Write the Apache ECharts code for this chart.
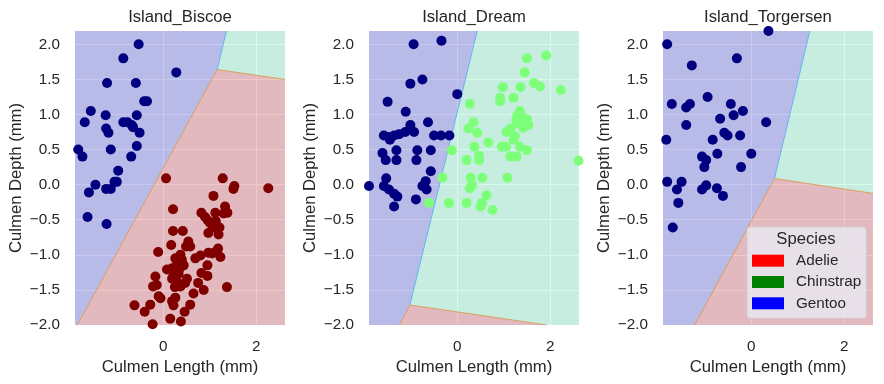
<!DOCTYPE html>
<html><head><meta charset="utf-8">
<script src="https://cdn.jsdelivr.net/npm/echarts@6.0.0/dist/echarts.min.js"></script>
<style>html,body{margin:0;padding:0;background:#fff}#c{width:884px;height:384px}</style>
</head><body><div id="c"></div>
<script>
// ---------------- data ----------------
const islands = ['Island_Biscoe', 'Island_Dream', 'Island_Torgersen'];
const speciesNames = ['Adelie', 'Chinstrap', 'Gentoo'];
const legendColors = ['#ff0000', '#008000', '#0000ff'];
const legendTitle = 'Species';
const xLabel = 'Culmen Length (mm)';
const yLabel = 'Culmen Depth (mm)';
const xExtent = [-1.9, 2.62];
const yExtent = [-2.0, 2.19];

// decision regions (data coordinates)
const biscoeAdelieRegion = [[-1.9,-2],[-1.85,-2],[1.16,1.64],[1.36,2.19],[-1.9,2.19]];
const biscoeChinstrapRegion = [[1.36,2.19],[1.16,1.64],[2.62,1.50],[2.62,2.19]];
const biscoeGentooRegion = [[-1.85,-2],[2.62,-2],[2.62,1.50],[1.16,1.64]];
const biscoeBlueEdge = [[1.16,1.64],[1.36,2.19]];
const biscoeRedEdge = [[-1.85,-2],[1.16,1.64],[2.62,1.50]];

const dreamAdelieRegion = [[-1.9,-2],[-1.24,-2],[-1.02,-1.715],[0.43,2.19],[-1.9,2.19]];
const dreamChinstrapRegion = [[0.43,2.19],[-1.02,-1.715],[1.92,-2],[2.62,-2],[2.62,2.19]];
const dreamGentooRegion = [[-1.24,-2],[-1.02,-1.715],[1.92,-2]];
const dreamBlueEdge = [[-1.02,-1.715],[0.43,2.19]];
const dreamRedEdge = [[-1.24,-2],[-1.02,-1.715],[1.92,-2]];

const torgersenAdelieRegion = [[-1.9,-2],[-1.22,-2],[0.50,0.088],[1.26,2.19],[-1.9,2.19]];
const torgersenChinstrapRegion = [[1.26,2.19],[0.50,0.088],[2.62,-0.125],[2.62,2.19]];
const torgersenGentooRegion = [[-1.22,-2],[2.62,-2],[2.62,-0.125],[0.50,0.088]];
const torgersenBlueEdge = [[0.50,0.088],[1.26,2.19]];
const torgersenRedEdge = [[-1.22,-2],[0.50,0.088],[2.62,-0.125]];

// scatter points [culmen length, culmen depth] (standardised)
const biscoeAdelie = [[-0.53,2.0],[-0.86,1.80],[0.28,1.60],[-1.21,1.45],[-0.59,1.45],[-0.41,1.19],[-0.35,1.19],[-1.56,1.05],[-1.24,0.99],[-0.57,0.99],[-1.69,0.89],[-0.86,0.89],[-0.77,0.89],[-0.68,0.85],[-0.65,0.82],[-1.23,0.80],[-1.18,0.74],[-0.51,0.74],[-1.83,0.50],[-1.74,0.40],[-1.13,0.50],[-0.57,0.55],[-0.69,0.40],[-0.97,0.20],[-1.05,0.04],[-1.0,0.04],[-1.46,0.0],[-1.60,-0.11],[-1.23,-0.06],[-1.13,-0.06],[-1.63,-0.46],[-1.22,-0.56]];
const biscoeGentoo = [[0.06,0.09],[1.28,0.09],[1.53,-0.02],[1.51,-0.06],[2.26,-0.05],[1.08,-0.16],[0.21,-0.35],[1.33,-0.31],[1.38,-0.40],[1.30,-0.41],[0.82,-0.40],[0.90,-0.46],[0.96,-0.51],[1.01,-0.55],[1.12,-0.40],[1.13,-0.52],[1.21,-0.61],[1.08,-0.61],[0.97,-0.69],[1.19,-0.71],[0.21,-0.66],[0.42,-0.66],[0.17,-0.86],[0.54,-0.81],[0.58,-0.88],[0.49,-0.88],[-0.11,-0.96],[1.18,-0.91],[1.12,-0.96],[1.23,-1.03],[0.97,-0.97],[0.80,-1.01],[0.69,-1.05],[0.95,-1.15],[0.26,-1.05],[0.37,-1.0],[0.40,-1.07],[0.44,-1.15],[0.08,-1.21],[0.19,-1.19],[0.22,-1.29],[0.33,-1.27],[0.82,-1.26],[0.95,-1.30],[-0.17,-1.31],[-0.14,-1.43],[-0.22,-1.45],[0.19,-1.34],[0.29,-1.38],[0.37,-1.45],[0.47,-1.40],[0.51,-1.34],[0.75,-1.40],[0.87,-1.50],[0.65,-1.55],[1.37,-1.46],[-0.10,-1.59],[-0.06,-1.62],[0.19,-1.66],[0.26,-1.61],[0.22,-1.72],[0.58,-1.71],[0.46,-1.81],[-0.28,-1.71],[-0.62,-1.72],[-0.40,-1.81],[0.15,-1.91],[0.38,-1.95],[-0.23,-1.99],[0.30,-1.10],[0.35,-1.20],[0.25,-1.46],[1.05,-0.98]];
const dreamAdelie = [[-0.94,2.0],[-0.34,2.05],[-1.01,1.44],[-0.75,1.50],[0.0,1.29],[-1.50,1.18],[-1.11,1.04],[-0.63,0.89],[-1.01,0.85],[-0.93,0.75],[-1.12,0.75],[-1.25,0.72],[-1.36,0.70],[-1.47,0.68],[-1.58,0.70],[-1.45,0.64],[-0.50,0.70],[-0.35,0.70],[-0.17,0.70],[-1.61,0.45],[-1.54,0.35],[-1.31,0.49],[-1.31,0.35],[-0.86,0.49],[-0.88,0.35],[-0.57,0.49],[-0.57,0.19],[-1.53,0.09],[-1.90,-0.02],[-1.58,-0.02],[-1.47,-0.07],[-1.36,-0.13],[-1.29,-0.17],[-0.68,0.05],[-0.75,-0.02],[-0.66,-0.07],[-0.89,-0.21],[-1.36,-0.31]];
const dreamChinstrap = [[1.91,1.84],[1.50,1.80],[1.45,1.60],[1.65,1.45],[1.78,1.40],[2.23,1.35],[0.98,1.39],[1.36,1.39],[0.92,1.24],[0.92,1.19],[1.21,1.24],[0.27,1.15],[1.35,1.05],[1.29,0.98],[1.39,0.96],[1.50,0.93],[1.27,0.92],[1.34,0.87],[1.42,0.81],[1.53,0.85],[0.35,0.89],[0.24,0.80],[0.43,0.74],[1.06,0.75],[1.15,0.80],[1.24,0.69],[1.21,0.64],[0.67,0.60],[0.37,0.54],[0.96,0.54],[1.05,0.54],[1.35,0.54],[1.50,0.49],[-0.12,0.49],[1.14,0.40],[1.28,0.40],[0.47,0.41],[0.47,0.35],[0.20,0.35],[2.61,0.34],[-0.32,0.10],[0.29,0.10],[0.54,0.10],[1.08,0.10],[0.32,-0.01],[0.27,-0.05],[0.63,-0.15],[-0.61,-0.26],[-0.18,-0.26],[0.20,-0.26],[0.53,-0.26],[0.50,-0.31],[0.76,-0.36]];
const torgersenAdelie = [[0.37,2.19],[-1.81,2.0],[-0.31,1.80],[-1.28,1.70],[-0.94,1.25],[-1.71,1.15],[-1.40,1.10],[-1.32,1.15],[-0.44,1.15],[-0.18,1.05],[-0.38,0.99],[-0.67,0.94],[0.32,0.89],[-1.40,0.85],[-1.83,0.64],[-0.83,0.64],[-0.58,0.74],[-0.51,0.70],[-0.24,0.70],[-1.06,0.40],[-0.97,0.35],[-0.73,0.44],[0.0,0.44],[-1.01,0.25],[-0.22,0.25],[-1.81,0.04],[-1.50,0.04],[-1.60,-0.07],[-1.06,-0.07],[-0.97,-0.01],[-0.74,-0.05],[-0.61,-0.16],[-1.57,-0.26],[-1.69,-0.61]];

// ---------------- styling ----------------
const FONT = "'Liberation Sans', Arial, sans-serif";
const TXT = '#262626';
const BIG = 16.67, SMALL = 15.28;
const pointColor = { Adelie: '#000080', Chinstrap: '#7dff7a', Gentoo: '#800000' };
const regionFill = { Adelie: 'rgba(71,77,209,0.3)', Chinstrap: 'rgba(117,244,182,0.3)', Gentoo: 'rgba(210,74,69,0.3)' };
const gridLefts = [75, 369, 663];

const panels = [
  { regions: [[biscoeAdelieRegion,'Adelie'],[biscoeChinstrapRegion,'Chinstrap'],[biscoeGentooRegion,'Gentoo']], blue: biscoeBlueEdge, red: biscoeRedEdge, pts: [[biscoeAdelie,'Adelie'],[biscoeGentoo,'Gentoo']] },
  { regions: [[dreamAdelieRegion,'Adelie'],[dreamChinstrapRegion,'Chinstrap'],[dreamGentooRegion,'Gentoo']], blue: dreamBlueEdge, red: dreamRedEdge, pts: [[dreamAdelie,'Adelie'],[dreamChinstrap,'Chinstrap']] },
  { regions: [[torgersenAdelieRegion,'Adelie'],[torgersenChinstrapRegion,'Chinstrap'],[torgersenGentooRegion,'Gentoo']], blue: torgersenBlueEdge, red: torgersenRedEdge, pts: [[torgersenAdelie,'Adelie']] }
];

const grids = [], xAxes = [], yAxes = [], titles = [], series = [];
panels.forEach((p, i) => {
  grids.push({ left: gridLefts[i], top: 31, width: 210, height: 294, show: true, backgroundColor: '#eaeaf2', borderWidth: 0 });
  titles.push({ text: islands[i], left: gridLefts[i] + 105, top: 9, textAlign: 'center', padding: 0,
    textStyle: { fontFamily: FONT, fontSize: BIG, fontWeight: 'normal', color: TXT } });
  xAxes.push({ type: 'value', gridIndex: i, min: xExtent[0], max: xExtent[1], splitNumber: 2,
    name: xLabel, nameLocation: 'middle', nameGap: 34,
    nameTextStyle: { fontFamily: FONT, fontSize: BIG, color: TXT },
    axisLine: { show: false }, axisTick: { show: false },
    axisLabel: { margin: 14, fontFamily: FONT, fontSize: SMALL, color: TXT, showMinLabel: false, showMaxLabel: false,
      formatter: v => (v < 0 ? '\u2212' : '') + Math.abs(v) },
    splitLine: { show: true, showMinLine: false, showMaxLine: false, lineStyle: { color: '#ffffff', width: 1 } } });
  yAxes.push({ type: 'value', gridIndex: i, min: yExtent[0], max: yExtent[1], interval: 0.5,
    name: yLabel, nameLocation: 'middle', nameGap: 50,
    nameTextStyle: { fontFamily: FONT, fontSize: BIG, color: TXT },
    axisLine: { show: false }, axisTick: { show: false },
    axisLabel: { margin: 15, fontFamily: FONT, fontSize: SMALL, color: TXT, showMaxLabel: false, showMinLabel: true,
      formatter: v => (v < 0 ? '\u2212' : '') + Math.abs(v).toFixed(1) },
    splitLine: { show: true, showMaxLine: false, lineStyle: { color: '#ffffff', width: 1 } } });

  p.regions.forEach(([poly, sp]) => {
    series.push({ type: 'custom', xAxisIndex: i, yAxisIndex: i, silent: true, z: 1, clip: true,
      data: [poly[0]],
      renderItem: (params, api) => ({ type: 'polygon',
        shape: { points: poly.map(pt => api.coord(pt)) },
        style: { fill: regionFill[sp], stroke: null } }) });
  });
  series.push({ type: 'line', xAxisIndex: i, yAxisIndex: i, data: p.blue, showSymbol: false, silent: true, z: 2,
    lineStyle: { color: '#64b4f0', width: 1 } });
  series.push({ type: 'line', xAxisIndex: i, yAxisIndex: i, data: p.red, showSymbol: false, silent: true, z: 2,
    lineStyle: { color: '#d9a05a', width: 1 } });
  p.pts.forEach(([pts, sp]) => {
    series.push({ type: 'scatter', xAxisIndex: i, yAxisIndex: i, data: pts, symbolSize: 10, z: 3, clip: true,
      silent: true, itemStyle: { color: pointColor[sp], opacity: 1 } });
  });
});
// legend entries
speciesNames.forEach((n, k) => {
  series.push({ type: 'scatter', name: n, xAxisIndex: 2, yAxisIndex: 2, data: [], itemStyle: { color: legendColors[k], opacity: 1 } });
});

const chart = echarts.init(document.getElementById('c'), null, { renderer: 'canvas' });
chart.setOption({
  animation: false,
  backgroundColor: '#ffffff',
  title: titles,
  grid: grids, xAxis: xAxes, yAxis: yAxes,
  legend: { data: speciesNames, orient: 'vertical', left: 747, top: 227, selectedMode: false,
    icon: 'rect', itemWidth: 32, itemHeight: 12, itemGap: 3.3,
    padding: [24.7, 5, 6, 5], backgroundColor: 'rgba(234,234,242,0.8)', borderColor: 'rgba(204,204,204,0.8)',
    borderWidth: 1, borderRadius: 3, z: 10,
    itemStyle: { opacity: 1 },
    textStyle: { fontFamily: FONT, fontSize: SMALL, color: TXT, lineHeight: 18, padding: [0, 0, 0, 7] } },
  graphic: [{ type: 'text', x: 806, y: 239.5, z: 100, silent: true,
    style: { text: legendTitle, fontFamily: FONT, fontSize: BIG, fill: TXT, align: 'center', verticalAlign: 'middle' } }],
  series: series
});
</script></body></html>
